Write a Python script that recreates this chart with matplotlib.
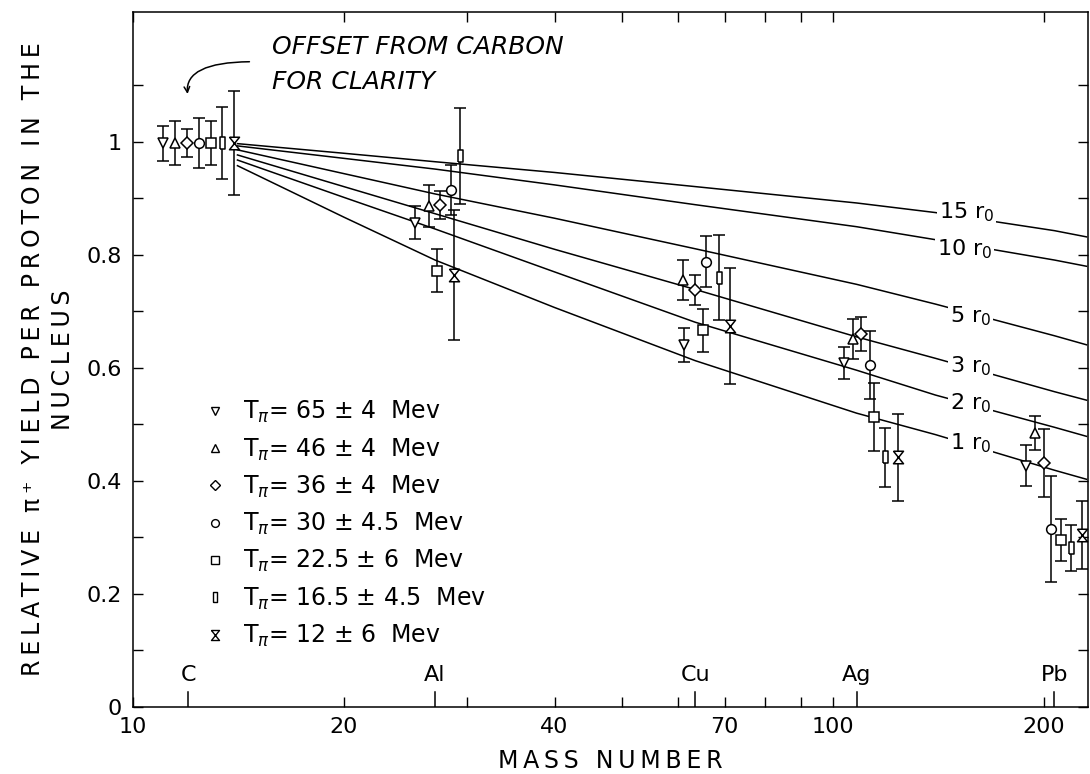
import numpy as np
import matplotlib
matplotlib.use('Agg')
import matplotlib.pyplot as plt
from matplotlib.lines import Line2D
from matplotlib.transforms import blended_transform_factory

# ---- data ----
elements = ['C', 'Al', 'Cu', 'Ag', 'Pb']
element_mass = [12, 27, 63.5, 108, 207]

series_labels = [r'T$_\pi$= 65 $\pm$ 4  Mev',
                 r'T$_\pi$= 46 $\pm$ 4  Mev',
                 r'T$_\pi$= 36 $\pm$ 4  Mev',
                 r'T$_\pi$= 30 $\pm$ 4.5  Mev',
                 r'T$_\pi$= 22.5 $\pm$ 6  Mev',
                 r'T$_\pi$= 16.5 $\pm$ 4.5  Mev',
                 r'T$_\pi$= 12 $\pm$ 6  Mev']

# points are drawn offset around each element for clarity
x_65 = [11.03, 25.25, 61.3, 103.7, 188.5]
y_65 = [0.998, 0.857, 0.641, 0.609, 0.427]
e_65 = [0.031, 0.029, 0.030, 0.028, 0.036]

x_46 = [11.48, 26.44, 61.1, 106.8, 194.2]
y_46 = [0.998, 0.886, 0.756, 0.651, 0.485]
e_46 = [0.039, 0.037, 0.035, 0.035, 0.030]

x_36 = [11.94, 27.41, 63.5, 109.6, 200.0]
y_36 = [0.998, 0.888, 0.738, 0.660, 0.432]
e_36 = [0.025, 0.025, 0.026, 0.030, 0.060]

x_30 = [12.42, 28.42, 65.9, 112.9, 204.6]
y_30 = [0.998, 0.915, 0.788, 0.605, 0.315]
e_30 = [0.044, 0.045, 0.045, 0.060, 0.093]

x_22 = [12.92, 27.15, 65.2, 114.3, 211.5]
y_22 = [0.998, 0.772, 0.667, 0.513, 0.296]
e_22 = [0.039, 0.038, 0.038, 0.060, 0.037]

x_16 = [13.39, 29.27, 68.8, 118.6, 218.6]
y_16 = [0.998, 0.975, 0.760, 0.442, 0.281]
e_16 = [0.064, 0.085, 0.075, 0.052, 0.041]

x_12 = [13.94, 28.71, 71.3, 123.8, 226.6]
y_12 = [0.998, 0.765, 0.674, 0.442, 0.304]
e_12 = [0.092, 0.115, 0.103, 0.077, 0.060]

# calculated curves for different radii
curve_x = [14.1, 20, 27, 40, 63.5, 108, 140, 207, 230]
r15 = [0.997, 0.980, 0.965, 0.946, 0.921, 0.892, 0.875, 0.843, 0.832]
r10 = [0.993, 0.971, 0.952, 0.924, 0.889, 0.850, 0.827, 0.791, 0.780]
r5 = [0.986, 0.944, 0.908, 0.865, 0.811, 0.748, 0.713, 0.657, 0.641]
r3 = [0.977, 0.921, 0.873, 0.810, 0.739, 0.655, 0.617, 0.558, 0.543]
r2 = [0.968, 0.902, 0.846, 0.770, 0.681, 0.596, 0.552, 0.495, 0.479]
r1 = [0.958, 0.867, 0.791, 0.707, 0.613, 0.520, 0.482, 0.419, 0.403]
curve_labels = ['15 r$_0$', '10 r$_0$', '5 r$_0$', '3 r$_0$', '2 r$_0$', '1 r$_0$']
curve_label_x = [141.6, 140.6, 146.6, 146.6, 146.6, 146.6]
curve_label_y = [0.876, 0.810, 0.692, 0.603, 0.538, 0.467]

xticks = [10, 20, 40, 70, 100, 200]
xtick_labels = ['10', '20', '40', '70', '100', '200']
xminor = [30, 50, 60, 80, 90]
yticks = [0, 0.2, 0.4, 0.6, 0.8, 1.0]
ytick_labels = ['0', '0.2', '0.4', '0.6', '0.8', '1']
yminor = [0.1, 0.3, 0.5, 0.7, 0.9, 1.1]


def spaced(s):
    # the lettering of the original is widely spaced
    return '\u2009'.join(s)


# custom markers: tall rectangle and hourglass
tall_rect = [(-0.4, -1), (0.4, -1), (0.4, 1), (-0.4, 1), (-0.4, -1)]
hourglass = [(-0.8, 1), (0.8, 1), (-0.8, -1), (0.8, -1), (-0.8, 1)]

plt.rcParams['font.family'] = ['DejaVu Sans']

fig = plt.figure(figsize=(10.9, 7.74), dpi=100)
ax = fig.add_axes([0.122, 0.0866, 0.876, 0.8979])
ax.set_xscale('log')
ax.set_xlim(10, 231)
ax.set_ylim(0, 1.23)

# curves
for yy in [r15, r10, r5, r3, r2, r1]:
    ax.plot(curve_x, yy, color='black', lw=1.1, zorder=1)
for lab, lx, ly in zip(curve_labels, curve_label_x, curve_label_y):
    ax.text(lx, ly, lab, fontsize=16, ha='left', va='center', zorder=2,
            bbox=dict(facecolor='white', edgecolor='none', pad=1.5))

# data points
series = [(x_65, y_65, e_65, 'v', 7.5),
          (x_46, y_46, e_46, '^', 7.5),
          (x_36, y_36, e_36, 'D', 6),
          (x_30, y_30, e_30, 'o', 7),
          (x_22, y_22, e_22, 's', 6.5),
          (x_16, y_16, e_16, tall_rect, 9),
          (x_12, y_12, e_12, hourglass, 9)]
handles = []
for (xs, ys, es, mk, ms), lab in zip(series, series_labels):
    ax.errorbar(xs, ys, yerr=es, fmt='none', ecolor='black', elinewidth=1.1,
                capsize=4.5, capthick=1.1, zorder=3)
    ax.plot(xs, ys, linestyle='none', marker=mk, markersize=ms,
            markerfacecolor='white', markeredgecolor='black', markeredgewidth=1.1,
            zorder=4)
    handles.append(Line2D([], [], linestyle='none', marker=mk, markersize=ms * 0.8,
                          markerfacecolor='white', markeredgecolor='black',
                          markeredgewidth=1.0))

ax.legend(handles, series_labels, loc='upper left', bbox_to_anchor=(0.0733, 0.443),
          frameon=False, fontsize=17, handlelength=1.0, handletextpad=0.7,
          labelspacing=0.47, borderpad=0, borderaxespad=0)

# element markers along the bottom axis
trans = blended_transform_factory(ax.transData, ax.transAxes)
for el, m in zip(elements, element_mass):
    ax.axvline(m, ymin=0, ymax=0.022, color='black', lw=1.1)
    ax.text(m, 0.046, el, transform=trans, ha='center', va='center', fontsize=16)

# note and arrow
ax.text(15.8, 1.19, 'OFFSET FROM CARBON\nFOR CLARITY', fontsize=18,
        fontstyle='italic', ha='left', va='top', linespacing=1.6)
ax.annotate('', xy=(11.98, 1.08), xytext=(14.8, 1.142),
            arrowprops=dict(arrowstyle='->', color='black', lw=1.1,
                            connectionstyle='angle3,angleA=0,angleB=100'))

# axes
ax.set_xticks(xticks)
ax.set_xticklabels(xtick_labels)
ax.set_xticks(xminor, minor=True)
ax.set_xticklabels([], minor=True)
ax.set_yticks(yticks)
ax.set_yticklabels(ytick_labels)
ax.set_yticks(yminor, minor=True)
ax.tick_params(which='both', direction='in', top=True, right=True,
               length=7, width=1.0, labelsize=16)
ax.tick_params(axis='x', pad=7)
ax.tick_params(axis='y', pad=8)
for sp in ax.spines.values():
    sp.set_linewidth(1.1)

ax.set_xlabel(spaced('MASS NUMBER'), fontsize=17, labelpad=9)
ax.set_ylabel(spaced('RELATIVE π⁺ YIELD PER PROTON IN THE') + '\n' + spaced('NUCLEUS'),
              fontsize=17, labelpad=8, linespacing=1.35)

fig.savefig('out.png', dpi=100)
